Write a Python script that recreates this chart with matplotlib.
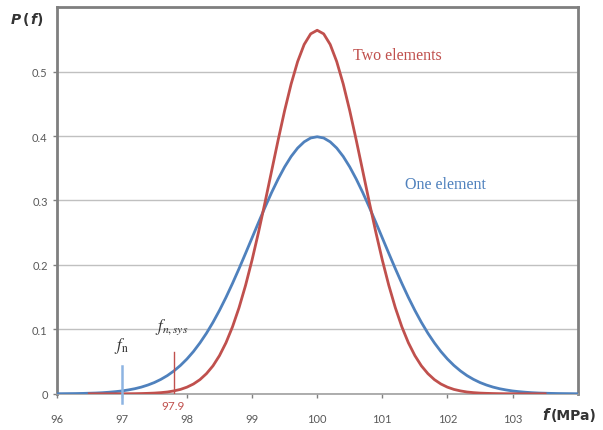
import numpy as np
import matplotlib
matplotlib.use("Agg")
import matplotlib.pyplot as plt

plt.rcParams["mathtext.fontset"] = "stix"

# readings, every 0.1 MPa
one_x0 = 96.0
one_element = [0.0001, 0.0002, 0.0003, 0.0004, 0.0006, 0.0009, 0.0012, 0.0017, 0.0024, 0.0033,
               0.0044, 0.0060, 0.0079, 0.0104, 0.0136, 0.0175, 0.0224, 0.0283, 0.0355, 0.0440,
               0.0540, 0.0656, 0.0790, 0.0940, 0.1109, 0.1295, 0.1497, 0.1714, 0.1942, 0.2179,
               0.2420, 0.2661, 0.2897, 0.3123, 0.3332, 0.3521, 0.3683, 0.3814, 0.3910, 0.3970,
               0.3989,
               0.3970, 0.3910, 0.3814, 0.3683, 0.3521, 0.3332, 0.3123, 0.2897, 0.2661, 0.2420,
               0.2179, 0.1942, 0.1714, 0.1497, 0.1295, 0.1109, 0.0940, 0.0790, 0.0656, 0.0540,
               0.0440, 0.0355, 0.0283, 0.0224, 0.0175, 0.0136, 0.0104, 0.0079, 0.0060, 0.0044,
               0.0033, 0.0024, 0.0017, 0.0012, 0.0009, 0.0006, 0.0004, 0.0003, 0.0002, 0.0001]

two_x0 = 96.5
two_elements = [0.0, 0.0, 0.0, 0.0, 0.0, 0.0001, 0.0001, 0.0002, 0.0004, 0.0007,
                0.0011, 0.0018, 0.0028, 0.0045, 0.0068, 0.0103, 0.0152, 0.0220, 0.0313, 0.0434,
                0.0593, 0.0793, 0.1040, 0.1336, 0.1682, 0.2076, 0.2511, 0.2975, 0.3456, 0.3936,
                0.4394, 0.4808, 0.5156, 0.5421, 0.5586,
                0.5642,
                0.5586, 0.5421, 0.5156, 0.4808, 0.4394, 0.3936, 0.3456, 0.2975, 0.2511, 0.2076,
                0.1682, 0.1336, 0.1040, 0.0793, 0.0593, 0.0434, 0.0313, 0.0220, 0.0152, 0.0103,
                0.0068, 0.0045, 0.0028, 0.0018, 0.0011, 0.0007, 0.0004, 0.0002, 0.0001, 0.0001,
                0.0, 0.0, 0.0, 0.0, 0.0]
step = 0.1

f_n = 97.0
f_n_height = 0.043
f_nsys = 97.8
f_nsys_height = 0.065

x_ticks = [96, 97, 98, 99, 100, 101, 102, 103]
y_ticks = [0, 0.1, 0.2, 0.3, 0.4, 0.5]

RED = "#C0504D"
BLUE = "#4F81BD"
LIGHTBLUE = "#8DB4E2"
TICKGRAY = "#595959"
DARK = "#333333"

x_one = one_x0 + step * np.arange(len(one_element))
x_two = two_x0 + step * np.arange(len(two_elements))

fig = plt.figure(figsize=(6.03, 4.31), dpi=100)
ax = fig.add_axes([0.094, 0.084, 0.864, 0.897])

ax.plot(x_one, one_element, color=BLUE, lw=2.0, zorder=3)
ax.plot(x_two, two_elements, color=RED, lw=2.0, zorder=3)

# marker lines for f_n and f_n,sys
ax.plot([f_n, f_n], [-0.015, f_n_height], color=LIGHTBLUE, lw=1.8, zorder=4, clip_on=False)
ax.plot([f_nsys, f_nsys], [0, f_nsys_height], color=RED, lw=1.0, zorder=4)

ax.set_xlim(96, 104)
ax.set_ylim(0, 0.6)
ax.set_xticks(x_ticks)
ax.set_yticks(y_ticks)
ax.set_xticklabels([str(t) for t in x_ticks])
ax.set_yticklabels(["0"] + [f"{t:g}" for t in y_ticks[1:]])
ax.tick_params(axis="both", colors="#808080", labelcolor=TICKGRAY, labelsize=8,
               length=3, width=1)
ax.tick_params(axis="x", pad=11)
for lab in ax.get_xticklabels() + ax.get_yticklabels():
    lab.set_family("Lato")

ax.grid(axis="y", color="#C0C0C0", lw=1.0)
ax.set_axisbelow(True)
for side in ("left", "top", "right"):
    ax.spines[side].set_color("#7F7F7F")
    ax.spines[side].set_linewidth(2.0)
ax.spines["bottom"].set_color("#A0A0A0")
ax.spines["bottom"].set_linewidth(1.2)

# axis titles
fig.text(0.017, 0.953, "P", ha="left", va="center", fontsize=10,
         fontweight="bold", fontstyle="italic", color=DARK)
fig.text(0.038, 0.953, "(", ha="left", va="center", fontsize=10,
         fontweight="bold", color=DARK)
fig.text(0.050, 0.953, "f", ha="left", va="center", fontsize=10,
         fontweight="bold", fontstyle="italic", color=DARK)
fig.text(0.061, 0.953, ")", ha="left", va="center", fontsize=10,
         fontweight="bold", color=DARK)
fig.text(0.900, 0.035, "f", ha="left", va="center", fontsize=10.5,
         fontweight="bold", fontstyle="italic", color=DARK)
fig.text(0.914, 0.035, "(MPa)", ha="left", va="center", fontsize=10,
         fontweight="bold", color=DARK)

serif = "Liberation Serif"
ax.text(100.55, 0.52, "Two elements", color=RED, fontsize=11.5, family=serif)
ax.text(101.35, 0.32, "One element", color=BLUE, fontsize=11.5, family=serif)
ax.text(97.0, 0.075, r"$f_{\mathrm{n}}$", color=DARK, fontsize=12, ha="center", va="center")
ax.text(97.77, 0.105, r"$f_{n,sys}$", color=DARK, fontsize=12, ha="center", va="center")
ax.text(97.78, -0.018, "97.9", color=RED, fontsize=8.5, ha="center", va="center", family="Lato")

fig.savefig("out.png", dpi=100)
